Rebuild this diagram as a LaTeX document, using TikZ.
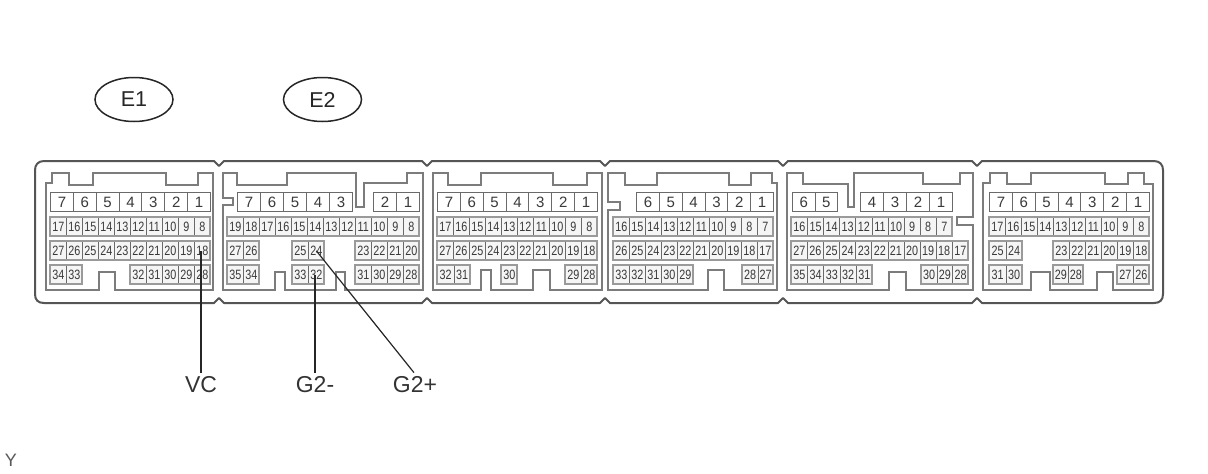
\documentclass[tikz,border=0pt]{standalone}
\usepackage{fontspec}
\usetikzlibrary{shapes.geometric}
\setmainfont{Liberation Sans}
\newfontfamily\narrowf[FakeStretch=0.8]{Liberation Sans}
\definecolor{outerc}{HTML}{555555}
\definecolor{housec}{HTML}{7C7C7C}
\definecolor{framec}{HTML}{9A9A9A}
\definecolor{divc}{HTML}{6A6A6A}
\definecolor{numc}{HTML}{3A3A3A}
\newcommand{\crow}[7]{% prefix, x0, x1, ytop, ybot, count, labels
  \pgfmathsetmacro{\cw}{(#3-#2)/#6}
  \foreach \lab [count=\ci from 0] in {#7} {
    \pgfmathsetmacro{\cx}{#2+\ci*\cw}
    \node[smallcell, minimum width=\cw pt, minimum height=#5pt-#4pt] (#1-\lab) at (\cx,#4) {\lab};
  }
  \draw[rowframe] (#2,#4) rectangle (#3,#5);
}
\newcommand{\brow}[6]{% prefix, x0, x1, count, labels, unused
  \pgfmathsetmacro{\cw}{(#3-#2)/#4}
  \foreach \lab [count=\ci from 0] in {#5} {
    \pgfmathsetmacro{\cx}{#2+\ci*\cw}
    \node[bigcell, minimum width=\cw pt, minimum height=19pt] (#1-\lab) at (\cx,192) {\lab};
  }
}
\begin{document}
\begin{tikzpicture}[x=1pt,y=-1pt,
  smallcell/.style={draw=divc, line width=0.7pt, fill=black!4, anchor=north west, inner sep=0pt, text=numc, font=\narrowf\fontsize{13.5}{14}\selectfont},
  bigcell/.style={draw=divc, line width=1pt, fill=white, anchor=north west, inner sep=0pt, text=numc, font=\fontsize{15}{16}\selectfont},
  rowframe/.style={draw=framec, line width=2pt},
  housing/.style={draw=housec, line width=1.2pt, line join=miter},
  shell/.style={draw=outerc, line width=2pt, line join=round},
  tag/.style={draw=black!85, line width=1.5pt, ellipse, minimum width=78pt, minimum height=44pt, inner sep=0pt, text=black!85, font=\fontsize{21.5}{23}\selectfont},
  lbl/.style={inner sep=0pt, font=\fontsize{23}{25}\selectfont, text=black!80},
  lead/.style={draw=black!85, line width=1.2pt}]
\useasboundingbox (0,0) rectangle (1208,474);
\fill[white] (0,0) rectangle (1208,474);

% outer shell
\draw[shell] (44,161) -- (214,161) -- (219,166) -- (224,161) -- (422,161) -- (427,166) -- (432,161) -- (600,161) -- (605,166) -- (610,161) -- (778,161) -- (783,166) -- (788,161) -- (972,161) -- (977,166) -- (982,161) -- (1154,161)
  .. controls (1160,161) and (1163,165) .. (1163,170) -- (1163,294)
  .. controls (1163,300) and (1160,303) .. (1154,303) -- (982,303) -- (977,298) -- (972,303) -- (788,303) -- (783,298) -- (778,303) -- (610,303) -- (605,298) -- (600,303) -- (432,303) -- (427,298) -- (422,303) -- (224,303) -- (219,298) -- (214,303) -- (44,303)
  .. controls (38,303) and (35,300) .. (35,294) -- (35,170)
  .. controls (35,165) and (38,161) .. (44,161) -- cycle;

% housings
\draw[housing] (46,290) -- (46,183) -- (52,183) -- (52,173) -- (69,173) -- (69,185) -- (93,185) -- (93,173) -- (166,173) -- (166,185) -- (198,185) -- (198,173) -- (213,173) -- (213,290) -- (115,290) -- (115,272) -- (99,272) -- (99,290) -- cycle;
\draw[housing] (223,290) -- (223,205) -- (233,205) -- (233,198) -- (223,198) -- (223,173) -- (237,173) -- (237,185) -- (287,185) -- (287,173) -- (356,173) -- (356,207) -- (364,207) -- (364,183) -- (407,183) -- (407,173) -- (423,173) -- (423,290) -- (345,290) -- (345,272) -- (336,272) -- (336,290) -- (285,290) -- (285,272) -- (275,272) -- (275,290) -- cycle;
\draw[housing] (433,173) -- (448,173) -- (448,185) -- (481,185) -- (481,173) -- (553,173) -- (553,185) -- (587,185) -- (587,173) -- (602,173) -- (602,290) -- (550,290) -- (550,270) -- (533,270) -- (533,290) -- (491,290) -- (491,270) -- (481,270) -- (481,290) -- (433,290) -- cycle;
\draw[housing] (608,173) -- (625,173) -- (625,185) -- (657,185) -- (657,173) -- (729,173) -- (729,185) -- (751,185) -- (751,173) -- (772,173) -- (772,183) -- (777,183) -- (777,290) -- (724,290) -- (724,270) -- (708,270) -- (708,290) -- (608,290) -- (608,210) -- (620,210) -- (620,202) -- (608,202) -- cycle;
\draw[housing] (787,290) -- (787,173) -- (803,173) -- (803,184) -- (848,184) -- (848,207) -- (854,207) -- (854,173) -- (923,173) -- (923,184) -- (960,184) -- (960,173) -- (973,173) -- (973,217) -- (957,217) -- (957,225) -- (973,225) -- (973,290) -- (906,290) -- (906,272) -- (889,272) -- (889,290) -- cycle;
\draw[housing] (983,290) -- (983,183) -- (990,183) -- (990,173) -- (1007,173) -- (1007,184) -- (1031,184) -- (1031,173) -- (1105,173) -- (1105,184) -- (1128,184) -- (1128,173) -- (1144,173) -- (1144,184) -- (1153,184) -- (1153,290) -- (1113,290) -- (1113,272) -- (1097,272) -- (1097,290) -- (1050,290) -- (1050,272) -- (1031,272) -- (1031,290) -- cycle;

% E1 block
\brow{a}{50}{210}{7}{7,6,5,4,3,2,1}{}
\crow{a}{50}{210}{217}{236}{10}{17,16,15,14,13,12,11,10,9,8}
\crow{a}{50}{210}{241}{260}{10}{27,26,25,24,23,22,21,20,19,18}
\crow{a}{50}{82}{265}{284}{2}{34,33}
\crow{a}{130}{210}{265}{284}{5}{32,31,30,29,28}

% E2 block
\brow{b}{237}{352}{5}{7,6,5,4,3}{}
\brow{b}{373}{419}{2}{2,1}{}
\crow{b}{227}{419}{217}{236}{12}{19,18,17,16,15,14,13,12,11,10,9,8}
\crow{b}{227}{259}{241}{260}{2}{27,26}
\crow{b}{292}{324}{241}{260}{2}{25,24}
\crow{b}{355}{419}{241}{260}{4}{23,22,21,20}
\crow{b}{227}{259}{265}{284}{2}{35,34}
\crow{b}{292}{324}{265}{284}{2}{33,32}
\crow{b}{355}{419}{265}{284}{4}{31,30,29,28}

% third block
\brow{c}{437}{597}{7}{7,6,5,4,3,2,1}{}
\crow{c}{437}{597}{217}{236}{10}{17,16,15,14,13,12,11,10,9,8}
\crow{c}{437}{597}{241}{260}{10}{27,26,25,24,23,22,21,20,19,18}
\crow{c}{437}{470}{265}{284}{2}{32,31}
\crow{c}{501}{517}{265}{284}{1}{30}
\crow{c}{565}{597}{265}{284}{2}{29,28}

% fourth block
\brow{d}{636}{773}{6}{6,5,4,3,2,1}{}
\crow{d}{613}{773}{217}{236}{10}{16,15,14,13,12,11,10,9,8,7}
\crow{d}{613}{773}{241}{260}{10}{26,25,24,23,22,21,20,19,18,17}
\crow{d}{613}{693}{265}{284}{5}{33,32,31,30,29}
\crow{d}{742}{773}{265}{284}{2}{28,27}

% fifth block
\brow{e}{792}{837}{2}{6,5}{}
\brow{e}{860}{952}{4}{4,3,2,1}{}
\crow{e}{791}{952}{217}{236}{10}{16,15,14,13,12,11,10,9,8,7}
\crow{e}{791}{968}{241}{260}{11}{27,26,25,24,23,22,21,20,19,18,17}
\crow{e}{791}{872}{265}{284}{5}{35,34,33,32,31}
\crow{e}{921}{968}{265}{284}{3}{30,29,28}

% sixth block
\brow{f}{989}{1149}{7}{7,6,5,4,3,2,1}{}
\crow{f}{989}{1149}{217}{236}{10}{17,16,15,14,13,12,11,10,9,8}
\crow{f}{989}{1022}{241}{260}{2}{25,24}
\crow{f}{1053}{1149}{241}{260}{6}{23,22,21,20,19,18}
\crow{f}{989}{1022}{265}{284}{2}{31,30}
\crow{f}{1053}{1083}{265}{284}{2}{29,28}
\crow{f}{1117}{1149}{265}{284}{2}{27,26}

% tags
\node[tag] (tagE1) at (134,99.5) {E1};
\node[tag] (tagE2) at (322.5,99.5) {E2};

% labels and leaders
\node[lbl] (VC) at (201,385) {VC};
\node[lbl] (Gm) at (315,385) {G2-};
\node[lbl] (Gp) at (415,385) {G2+};
\node[lbl, font=\fontsize{18}{20}\selectfont, text=black!65] (Y) at (11,460) {Y};
\coordinate (pinVC) at (a-18.center);
\coordinate (pinGm) at (b-32.center);
\coordinate (pinGp) at (b-24.center);
\draw[lead] (VC.north) ++(0,-4) -- (VC.north |- pinVC);
\draw[lead] (Gm.north) ++(0,-4) -- (Gm.north |- pinGm);
\draw[lead] (Gp.north) ++(-1,-4) -- (pinGp);
\end{tikzpicture}
\end{document}
